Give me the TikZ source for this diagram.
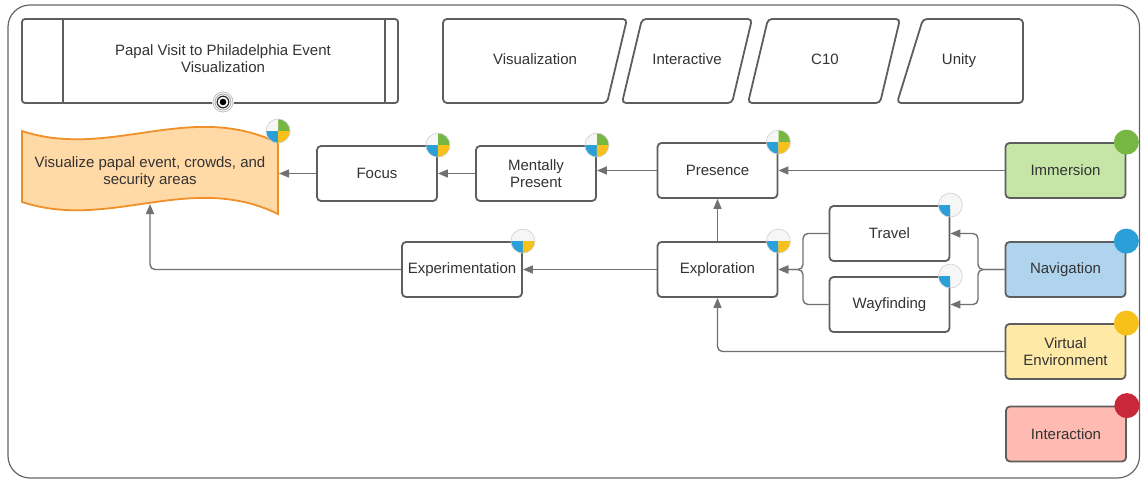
\documentclass[tikz,border=0pt]{standalone}
\usepackage{fontspec}
\setmainfont{Liberation Sans}
\usetikzlibrary{arrows.meta}

\definecolor{framegray}{HTML}{666666}
\definecolor{boxgray}{HTML}{5E5E5E}
\definecolor{linegray}{HTML}{717171}
\definecolor{textgray}{HTML}{333333}
\definecolor{piewhite}{HTML}{F6F6F6}
\definecolor{pieedge}{HTML}{CFCFCF}
\definecolor{cgreen}{HTML}{76B743}
\definecolor{cblue}{HTML}{2A9FD8}
\definecolor{cyellow}{HTML}{F8C01A}
\definecolor{cred}{HTML}{C8283A}
\definecolor{fillgreen}{HTML}{C6E6A8}
\definecolor{fillblue}{HTML}{B1D4EE}
\definecolor{fillyellow}{HTML}{FFE9A6}
\definecolor{fillred}{HTML}{FFBBB1}
\definecolor{goalfill}{HTML}{FFD9A6}
\definecolor{goalborder}{HTML}{F0902A}

% quartered status disc: #1 centre, #2 top-left, #3 top-right, #4 bottom-left, #5 bottom-right
\newcommand\quadpie[5]{%
  \fill[#3] (#1) -- ++(0:12pt) arc[start angle=0,end angle=90,radius=12pt] -- cycle;
  \fill[#2] (#1) -- ++(90:12pt) arc[start angle=90,end angle=180,radius=12pt] -- cycle;
  \fill[#4] (#1) -- ++(180:12pt) arc[start angle=180,end angle=270,radius=12pt] -- cycle;
  \fill[#5] (#1) -- ++(270:12pt) arc[start angle=270,end angle=360,radius=12pt] -- cycle;
  \draw[pieedge, line width=0.6pt] (#1) circle[radius=12pt];
}
% solid category dot
\newcommand\catdot[2]{\fill[#2] (#1) circle[radius=12.5pt];}

\begin{document}
\begin{tikzpicture}[x=1pt, y=-1pt,
  font=\fontsize{15}{17.5}\selectfont,
  box/.style={draw=boxgray, line width=1.8pt, rounded corners=4pt, fill=white,
    minimum width=120pt, minimum height=55pt, text=textgray, align=center, inner sep=1pt},
  shapeline/.style={draw=boxgray, line width=1.8pt, rounded corners=4pt, fill=white},
  label/.style={text=textgray, align=center},
  conn/.style={draw=linegray, line width=1.4pt, rounded corners=5pt},
  arr/.style={conn, -{Triangle[length=10pt,width=8pt]}}]

\useasboundingbox (0,0) rectangle (1141,480);

% outer frame
\draw[framegray, line width=1.2pt, rounded corners=22pt] (8,5) rectangle (1139.5,478);

% header: title block and tag parallelograms
\path[shapeline, rounded corners=3pt] (22,19) rectangle (398,103);
\draw[boxgray, line width=1.8pt] (63,19) -- (63,103) (385,19) -- (385,103);
\node[label] (title) at (223,58.5) {Papal Visit to Philadelphia Event\\Visualization};

\path[shapeline] (443,19) -- (627,19) -- (607,103) -- (443,103) -- cycle;
\node[label] (tagvis) at (535,59) {Visualization};
\path[shapeline] (642,19) -- (752,19) -- (732,103) -- (622,103) -- cycle;
\node[label] (taginter) at (687,59) {Interactive};
\path[shapeline] (768,19) -- (900,19) -- (880,103) -- (748,103) -- cycle;
\node[label] (tagc) at (825,59) {C10};
\path[shapeline] (923,19) -- (1023,19) -- (1023,103) -- (897,103) -- cycle;
\node[label] (tagunity) at (959,61) {Unity};

% goal document
\path[draw=goalborder, fill=goalfill, line width=1.8pt]
  (22,131) .. controls (110,160) and (190,100) .. (278,143) -- (278,214)
  .. controls (190,171) and (110,231) .. (22,202) -- cycle;
\node[label] (goal) at (150,172) {Visualize papal event, crowds, and\\security areas};
\coordinate (goalE) at (279,173.5);
\coordinate (goalS) at (150,204);

% eye marker on the title block
\coordinate (eye) at (223,102);
\fill[white] (eye) circle[radius=11pt];
\draw[black!25, line width=0.8pt] (eye) circle[radius=10pt];
\draw[black!35, line width=0.8pt] (eye) circle[radius=8pt];
\draw[black!85, line width=1.2pt] (eye) circle[radius=5.8pt];
\fill[black] (eye) circle[radius=3.3pt];

% concept nodes
\node[box] (focus) at (377,173.5) {Focus};
\node[box] (mental) at (536,173.5) {Mentally\\Present};
\node[box] (presence) at (717.5,170.5) {Presence};
\node[box] (explore) at (717.5,269.5) {Exploration};
\node[box] (experiment) at (462,269.5) {Experimentation};
\node[box] (travel) at (889.5,233.5) {Travel};
\node[box] (wayfind) at (889.5,304.5) {Wayfinding};

% category nodes
\node[box, fill=fillgreen] (immersion) at (1065.5,170.5) {Immersion};
\node[box, fill=fillblue] (navigation) at (1065.5,269.5) {Navigation};
\node[box, fill=fillyellow] (virtenv) at (1065.5,351.5) {Virtual\\Environment};
\node[box, fill=fillred] (interaction) at (1066,434) {Interaction};

% connectors
\coordinate (navj) at (978,269.5);
\coordinate (expj) at (803,269.5);
\draw[arr] (immersion.west) -- (presence.east);
\draw[arr] (presence.west) -- (presence.west -| mental.east);
\draw[arr] (mental.west) -- (focus.east);
\draw[arr] (focus.west) -- (goalE);
\draw[arr] (explore.north) -- (presence.south);
\draw[arr] (explore.west) -- (experiment.east);
\draw[arr] (experiment.west) -| (goalS);
\draw[arr] (navigation.west) -- (navj) |- (travel.east);
\draw[arr] (navigation.west) -- (navj) |- (wayfind.east);
\draw[arr] (travel.west) -| (expj) -- (explore.east);
\draw[arr] (wayfind.west) -| (expj) -- (explore.east);
\draw[arr] (virtenv.west) -| (explore.south);

% status discs
\quadpie{278,131}{piewhite}{cgreen}{cblue}{cyellow}
\quadpie{focus.north east}{piewhite}{cgreen}{cblue}{cyellow}
\quadpie{mental.north east}{piewhite}{cgreen}{cblue}{cyellow}
\quadpie{presence.north east}{piewhite}{cgreen}{cblue}{cyellow}
\quadpie{explore.north east}{piewhite}{piewhite}{cblue}{cyellow}
\quadpie{experiment.north east}{piewhite}{piewhite}{cblue}{cyellow}
\quadpie{travel.north east}{piewhite}{piewhite}{cblue}{piewhite}
\quadpie{wayfind.north east}{piewhite}{piewhite}{cblue}{piewhite}
\catdot{immersion.north east}{cgreen}
\catdot{navigation.north east}{cblue}
\catdot{virtenv.north east}{cyellow}
\catdot{interaction.north east}{cred}

\end{tikzpicture}
\end{document}
